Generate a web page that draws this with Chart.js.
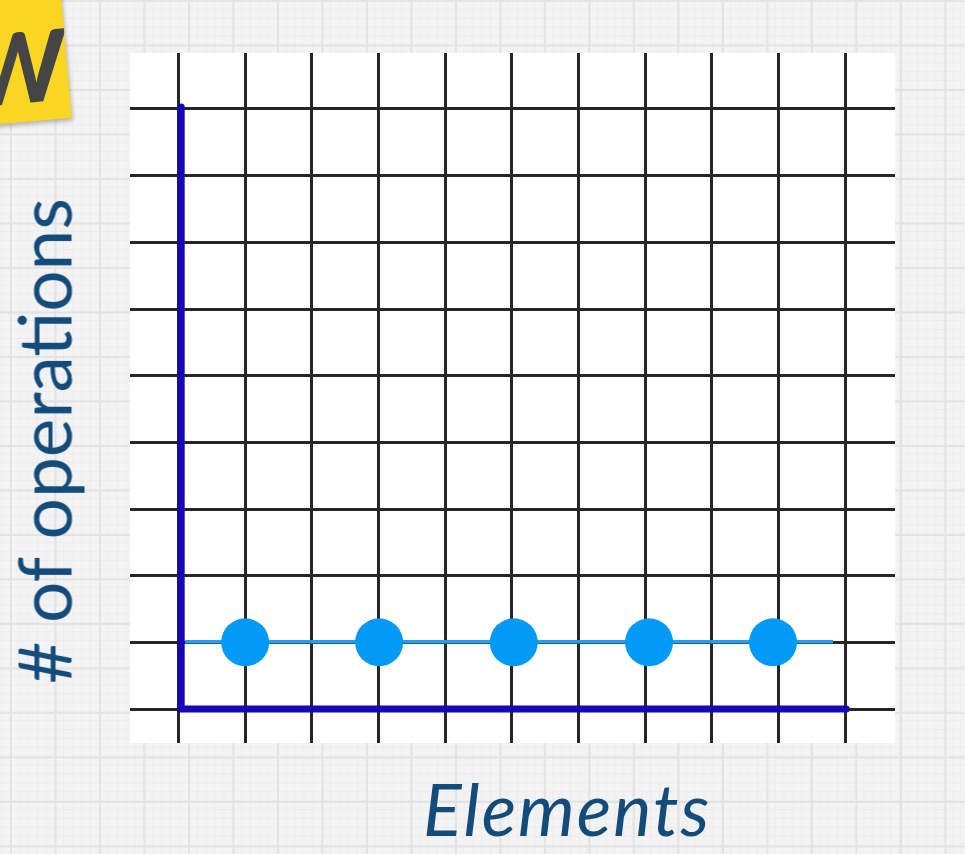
<!DOCTYPE html>
<html>
<head>
<meta charset="utf-8">
<script src="https://cdn.jsdelivr.net/npm/chart.js@4.4.1/dist/chart.umd.min.js"></script>
<style>
  html, body { margin: 0; padding: 0; }
  body {
    width: 965px; height: 854px; overflow: hidden; position: relative;
    background-color: #f3f3f3;
    background-image:
      linear-gradient(#e3e3e3 1.5px, transparent 1.5px),
      linear-gradient(90deg, #e3e3e3 1.5px, transparent 1.5px),
      linear-gradient(#ececec 1px, transparent 1px),
      linear-gradient(90deg, #ececec 1px, transparent 1px);
    background-size: 44.5px 44.5px, 44.5px 44.5px, 8.9px 8.9px, 8.9px 8.9px;
    background-position: 10px 0px, 10px 0px, 10px 0px, 10px 0px;
    font-family: Lato, sans-serif;
  }
  #chartBox { position: absolute; left: 0; top: 0; width: 965px; height: 854px; }
  .sticky {
    position: absolute; left: -24px; top: -12px; width: 90px; height: 134px;
    background: #f8d622; transform: rotate(-5deg);
    box-shadow: 1px 3px 4px rgba(0,0,0,0.25);
    overflow: hidden;
  }
  .sticky span {
    position: absolute; left: -8px; top: 18px;
    font: italic 900 98px Lato, sans-serif; color: #454545;
  }
  .ylabel {
    position: absolute; left: 44px; top: 441px;
    transform: translate(-50%, -50%) rotate(-90deg);
    white-space: nowrap; line-height: 1;
    font-size: 73px; color: #134b7a;
  }
  .xlabel {
    position: absolute; left: 423px; top: 772px;
    white-space: nowrap; line-height: 1;
    font-size: 72px; letter-spacing: 2px; font-style: italic; color: #134b7a;
  }
</style>
</head>
<body>
<div class="sticky"><span>W</span></div>
<div id="chartBox"><canvas id="chart" width="965" height="854"></canvas></div>
<div class="ylabel"># of operations</div>
<div class="xlabel">Elements</div>

<script>
// datos
const xTicks = [0, 1, 2, 3, 4, 5, 6, 7, 8, 9, 10];
const yTicks = [0, 1, 2, 3, 4, 5, 6, 7, 8, 9];

// puntos O(1)
const pointX = [1, 3.01, 5.03, 7.06, 8.92];
const pointY = [1, 1, 1, 1, 1];

// linea trazada a mano
const lineX = [0.1, 9.82];
const lineY = [1.01, 1.01];

// ejes azules
const axisX = [0.04, 0.04, 10.02];
const axisY = [9.03, 0, 0];

const toXY = (xs, ys) => xs.map((x, i) => ({ x: x, y: ys[i] }));

// fondo blanco del area del grafico
const whitePanel = {
  id: 'whitePanel',
  beforeDraw(chart) {
    const a = chart.chartArea;
    const ctx = chart.ctx;
    ctx.save();
    ctx.fillStyle = '#ffffff';
    ctx.fillRect(a.left, a.top, a.right - a.left, a.bottom - a.top);
    ctx.restore();
  }
};

const ctx = document.getElementById('chart').getContext('2d');
new Chart(ctx, {
  type: 'scatter',
  data: {
    datasets: [
      {
        label: 'points',
        data: toXY(pointX, pointY),
        pointRadius: 24,
        pointHoverRadius: 24,
        pointBackgroundColor: '#0399f7',
        pointBorderWidth: 0,
        showLine: false,
        order: 1
      },
      {
        label: 'line',
        data: toXY(lineX, lineY),
        showLine: true,
        borderColor: '#249ff0',
        borderWidth: 3.5,
        pointRadius: 0,
        order: 2
      },
      {
        label: 'axes',
        data: toXY(axisX, axisY),
        showLine: true,
        borderColor: '#1705b8',
        borderWidth: 7,
        borderCapStyle: 'round',
        borderJoinStyle: 'miter',
        pointRadius: 0,
        clip: false,
        order: 3
      }
    ]
  },
  options: {
    responsive: false,
    animation: false,
    layout: { padding: { left: 130, top: 53, right: 70, bottom: 111 } },
    plugins: { legend: { display: false }, tooltip: { enabled: false } },
    scales: {
      x: {
        type: 'linear',
        min: -0.728, max: 10.75,
        afterBuildTicks: s => { s.ticks = xTicks.map(v => ({ value: v })); },
        ticks: { display: false },
        border: { display: false },
        grid: { color: '#262626', lineWidth: 3, drawTicks: false }
      },
      y: {
        type: 'linear',
        min: -0.51, max: 9.84,
        afterBuildTicks: s => { s.ticks = yTicks.map(v => ({ value: v })); },
        ticks: { display: false },
        border: { display: false },
        grid: { color: '#262626', lineWidth: 3, drawTicks: false }
      }
    }
  },
  plugins: [whitePanel]
});
</script>
</body>
</html>
